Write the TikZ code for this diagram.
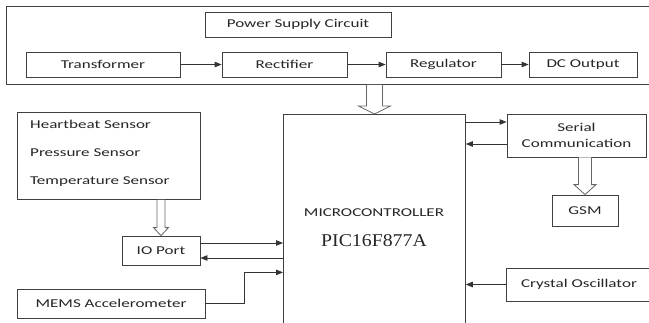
\documentclass[tikz,border=0pt]{standalone}
\usepackage{fontspec}
\setmainfont{Carlito}[FakeStretch=1.42]
\newfontfamily\partfont{Liberation Serif}[FakeStretch=1.1]
\usetikzlibrary{positioning,arrows.meta,calc}

% wide hollow arrow pointing down: x from #1, top at #2, tip at #3
\newcommand{\hollowdown}[6]{%
  \draw[hollow] let \p1=(#1), \p2=(#2), \p3=(#3) in
    (\x1-#4,\y2) -- (\x1-#4,\y3+#6) -- (\x1-#5,\y3+#6) -- (\x1,\y3)
    -- (\x1+#5,\y3+#6) -- (\x1+#4,\y3+#6) -- (\x1+#4,\y2);}

\begin{document}
\begin{tikzpicture}[
  x=1pt, y=-1pt,
  every node/.style={font=\fontsize{12}{14.5}\selectfont, align=center, text=black!85},
  box/.style={draw=black!75, line width=0.8pt, inner sep=0pt, fill=white},
  txt/.style={inner sep=0pt, anchor=west},
  arr/.style={-{Triangle[length=7pt, width=5.5pt]}, line width=0.8pt, draw=black!80},
  hollow/.style={draw=black!60, line width=0.8pt, fill=white, line join=miter}
]
\useasboundingbox (0,0) rectangle (649,322);

% power supply part
\node[box, anchor=north west, minimum width=646, minimum height=78] (psu) at (6,6) {};
\node[box, minimum width=186, minimum height=25] (title) at (298,24.5) {Power Supply Circuit};
\node[box, minimum width=154, minimum height=25] (trans) at (103,64.5) {Transformer};
\node[box, minimum width=125, minimum height=25] (rect) at (284.5,64.5) {Rectifier};
\node[box, minimum width=115, minimum height=25] (reg) at (443.5,64.5) {Regulator};
\node[box, minimum width=108, minimum height=25] (dcout) at (583,64.5) {DC Output};
\draw[arr] (trans) -- (rect);
\draw[arr] (rect) -- (reg);
\draw[arr] (reg) -- (dcout);

% controller
\node[box, anchor=north west, minimum width=182, minimum height=220] (mcu) at (283,114) {};
\node (mcuname) at (374,213) {MICROCONTROLLER};
\node[font=\partfont\fontsize{18}{20}\selectfont] (mcupart) at (374,241) {PIC16F877A};
\hollowdown{mcu.north}{psu.south}{mcu.north}{8pt}{16pt}{8pt}

% sensors
\node[box, anchor=north west, minimum width=183, minimum height=87] (sensors) at (17,112) {};
\node[txt] (heart) at (30,124) {Heartbeat Sensor};
\node[txt] (press) at (30,153) {Pressure Sensor};
\node[txt] (temp) at (30,182) {Temperature Sensor};
\node[box, minimum width=78, minimum height=29] (ioport) at (161,250.5) {IO Port};
\hollowdown{ioport.north}{sensors.south}{ioport.north}{4pt}{7.5pt}{8pt}
\draw[arr] ([yshift=7.5pt]ioport.east) -- ([yshift=7.5pt]ioport.east -| mcu.west);
\draw[arr] ([yshift=-7.5pt]ioport.east -| mcu.west) -- ([yshift=-7.5pt]ioport.east);

\node[box, minimum width=188, minimum height=29] (mems) at (111,303.5) {MEMS Accelerometer};
\draw[arr] (mems.east) -- ++(39,0) |- ([yshift=-48pt]mcu.west);

% right side
\node[box, minimum width=139, minimum height=43] (serial) at (576.5,135.5) {Serial\\[1pt]Communication};
\draw[arr] ([yshift=13.5pt]serial.west -| mcu.east) -- ([yshift=13.5pt]serial.west);
\draw[arr] ([yshift=-8.5pt]serial.west) -- ([yshift=-8.5pt]serial.west -| mcu.east);
\node[box, minimum width=66, minimum height=31] (gsm) at (585,210.5) {GSM};
\hollowdown{gsm.north}{serial.south}{gsm.north}{6.5pt}{11pt}{10pt}

\node[box, minimum width=146, minimum height=33] (xtal) at (579,284.5) {Crystal Oscillator};
\draw[arr] (xtal.west) -- (xtal.west -| mcu.east);
\end{tikzpicture}
\end{document}
